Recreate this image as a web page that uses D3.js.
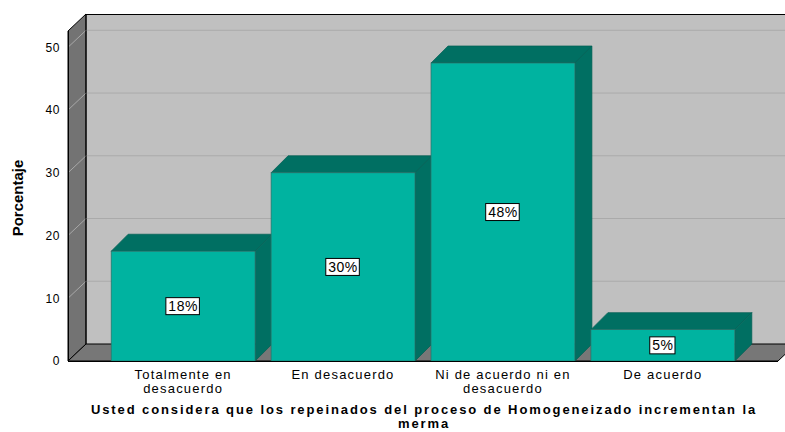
<!DOCTYPE html>
<html lang="es">
<head>
  <meta charset="UTF-8">
  <title>Porcentaje</title>
  <script src="https://d3js.org/d3.v7.min.js"></script>
  <style>
    body { margin: 0; background: #fff; }
    svg text { font-family: "Liberation Sans", Arial, sans-serif; fill: #000; }
  </style>
</head>
<body>
<div id="chart"></div>
<script>
  // datos del grafico
  const categories = ["Totalmente en desacuerdo", "En desacuerdo", "Ni de acuerdo ni en desacuerdo", "De acuerdo"];
  const categoryLines = [["Totalmente en", "desacuerdo"], ["En desacuerdo"], ["Ni de acuerdo ni en", "desacuerdo"], ["De acuerdo"]];
  const values = [17.5, 30, 47.5, 5];
  const valueLabels = ["18%", "30%", "48%", "5%"];
  const yTicks = [0, 10, 20, 30, 40, 50];
  const yTitle = "Porcentaje";
  const xTitle = ["Usted considera que los repeinados del proceso de Homogeneizado incrementan la", "merma"];

  const W = 785, H = 432;
  const plotL = 68, plotR = 778, plotB = 361, plotT = 31;
  const dx = 18, dy = 17;     // profundidad de las paredes
  const bdx = 17, bdy = 17;   // profundidad de las barras

  const x = d3.scaleBand().domain(categories).range([plotL, plotR])
    .paddingInner(0.1).paddingOuter(0.27);
  const y = d3.scaleLinear().domain([0, 52.6]).range([plotB, plotT]);

  const svg = d3.select("#chart").append("svg")
    .attr("width", W).attr("height", H);

  // pared del fondo
  svg.append("rect")
    .attr("x", plotL + dx).attr("y", plotT - dy)
    .attr("width", plotR - plotL + 10).attr("height", plotB - plotT)
    .attr("fill", "#c0c0c0");

  // pared izquierda
  svg.append("polygon")
    .attr("points", [[plotL, plotB], [plotL, plotT], [plotL + dx, plotT - dy], [plotL + dx, plotB - dy]].join(" "))
    .attr("fill", "#737373").attr("stroke", "#000").attr("stroke-width", 1);

  // piso
  svg.append("polygon")
    .attr("points", [[plotL, plotB], [plotL + dx, plotB - dy], [plotR + dx, plotB - dy], [plotR, plotB]].join(" "))
    .attr("fill", "#777").attr("stroke", "#000").attr("stroke-width", 1);

  // lineas de cuadricula
  const grid = svg.append("g");
  grid.selectAll("line.back").data(yTicks.filter(t => t > 0)).join("line")
    .attr("x1", plotL + dx).attr("x2", plotR + dx + 10)
    .attr("y1", d => y(d) - dy).attr("y2", d => y(d) - dy)
    .attr("stroke", "#aaa").attr("stroke-width", 1);
  grid.selectAll("line.side").data(yTicks.filter(t => t > 0)).join("line")
    .attr("x1", plotL).attr("x2", plotL + dx)
    .attr("y1", d => y(d)).attr("y2", d => y(d) - dy)
    .attr("stroke", "#a8a8a8").attr("stroke-width", 1);

  // bordes
  svg.append("line").attr("x1", plotL + dx).attr("x2", plotL + dx)
    .attr("y1", plotT - dy).attr("y2", plotB - dy).attr("stroke", "#000");
  svg.append("line").attr("x1", plotL + dx).attr("x2", W)
    .attr("y1", plotT - dy + 0.5).attr("y2", plotT - dy + 0.5).attr("stroke", "#000");

  // barras 3D
  const bars = svg.selectAll("g.bar").data(values).join("g").attr("class", "bar");
  bars.append("polygon")
    .attr("points", (d, i) => {
      const x0 = x(categories[i]), x1 = x0 + x.bandwidth(), yt = y(d);
      return [[x0, yt], [x0 + bdx, yt - bdy], [x1 + bdx, yt - bdy], [x1, yt]].join(" ");
    })
    .attr("fill", "#006f62").attr("stroke", "#005e53").attr("stroke-width", 0.7);
  bars.append("polygon")
    .attr("points", (d, i) => {
      const x1 = x(categories[i]) + x.bandwidth(), yt = y(d);
      return [[x1, yt], [x1 + bdx, yt - bdy], [x1 + bdx, plotB - bdy], [x1, plotB]].join(" ");
    })
    .attr("fill", "#006f62").attr("stroke", "#005e53").attr("stroke-width", 0.7);
  bars.append("rect")
    .attr("x", (d, i) => x(categories[i]))
    .attr("y", d => y(d))
    .attr("width", x.bandwidth())
    .attr("height", d => plotB - y(d))
    .attr("fill", "#00b3a0").attr("stroke", "#2f6e66").attr("stroke-width", 0.7);

  // linea frontal
  svg.append("line").attr("x1", plotL).attr("x2", plotR)
    .attr("y1", plotB + 0.5).attr("y2", plotB + 0.5).attr("stroke", "#000");
  svg.append("line").attr("x1", plotL + 0.5).attr("x2", plotL + 0.5)
    .attr("y1", plotT).attr("y2", plotB).attr("stroke", "#000");

  // etiquetas de valor
  const lab = svg.selectAll("g.lab").data(values).join("g").attr("class", "lab")
    .attr("transform", (d, i) => `translate(${x(categories[i]) + x.bandwidth() / 2},${y(d / 2)})`);
  lab.append("text")
    .attr("text-anchor", "middle").attr("dy", "0.36em")
    .style("font-size", "14px").style("letter-spacing", "0.5px")
    .text((d, i) => valueLabels[i]);
  lab.each(function () {
    const g = d3.select(this), b = g.select("text").node().getBBox();
    g.insert("rect", "text")
      .attr("x", b.x - 2.5).attr("y", b.y - 0.5)
      .attr("width", b.width + 4).attr("height", b.height + 1)
      .attr("fill", "#fff").attr("stroke", "#000").attr("stroke-width", 1);
  });

  // eje y
  const yAxis = svg.append("g").attr("transform", `translate(${plotL},0)`)
    .call(d3.axisLeft(y).tickValues(yTicks).tickSize(0).tickPadding(8));
  yAxis.select(".domain").remove();
  yAxis.selectAll("text").style("font-size", "12px")
    .style("font-family", "'Liberation Sans', Arial, sans-serif").style("letter-spacing", "0.6px");

  svg.append("text")
    .attr("transform", "translate(23,198) rotate(-90)")
    .attr("text-anchor", "middle")
    .style("font-size", "15px").style("font-weight", "bold")
    .text(yTitle);

  // etiquetas de categoria
  const xl = svg.selectAll("text.cat").data(categories).join("text").attr("class", "cat")
    .attr("text-anchor", "middle")
    .attr("x", d => x(d) + x.bandwidth() / 2)
    .attr("y", 379)
    .style("font-size", "13px").style("letter-spacing", "1.2px");
  xl.selectAll("tspan").data((d, i) => categoryLines[i]).join("tspan")
    .attr("x", function () { return this.parentNode.getAttribute("x"); })
    .attr("dy", (d, j) => j === 0 ? 0 : 14)
    .text(d => d);

  svg.append("text")
    .attr("text-anchor", "middle")
    .attr("x", 424).attr("y", 414)
    .style("font-size", "13px").style("font-weight", "bold").style("letter-spacing", "1.9px")
    .selectAll("tspan").data(xTitle).join("tspan")
    .attr("x", 424).attr("dy", (d, j) => j === 0 ? 0 : 14)
    .text(d => d);
</script>
</body>
</html>
